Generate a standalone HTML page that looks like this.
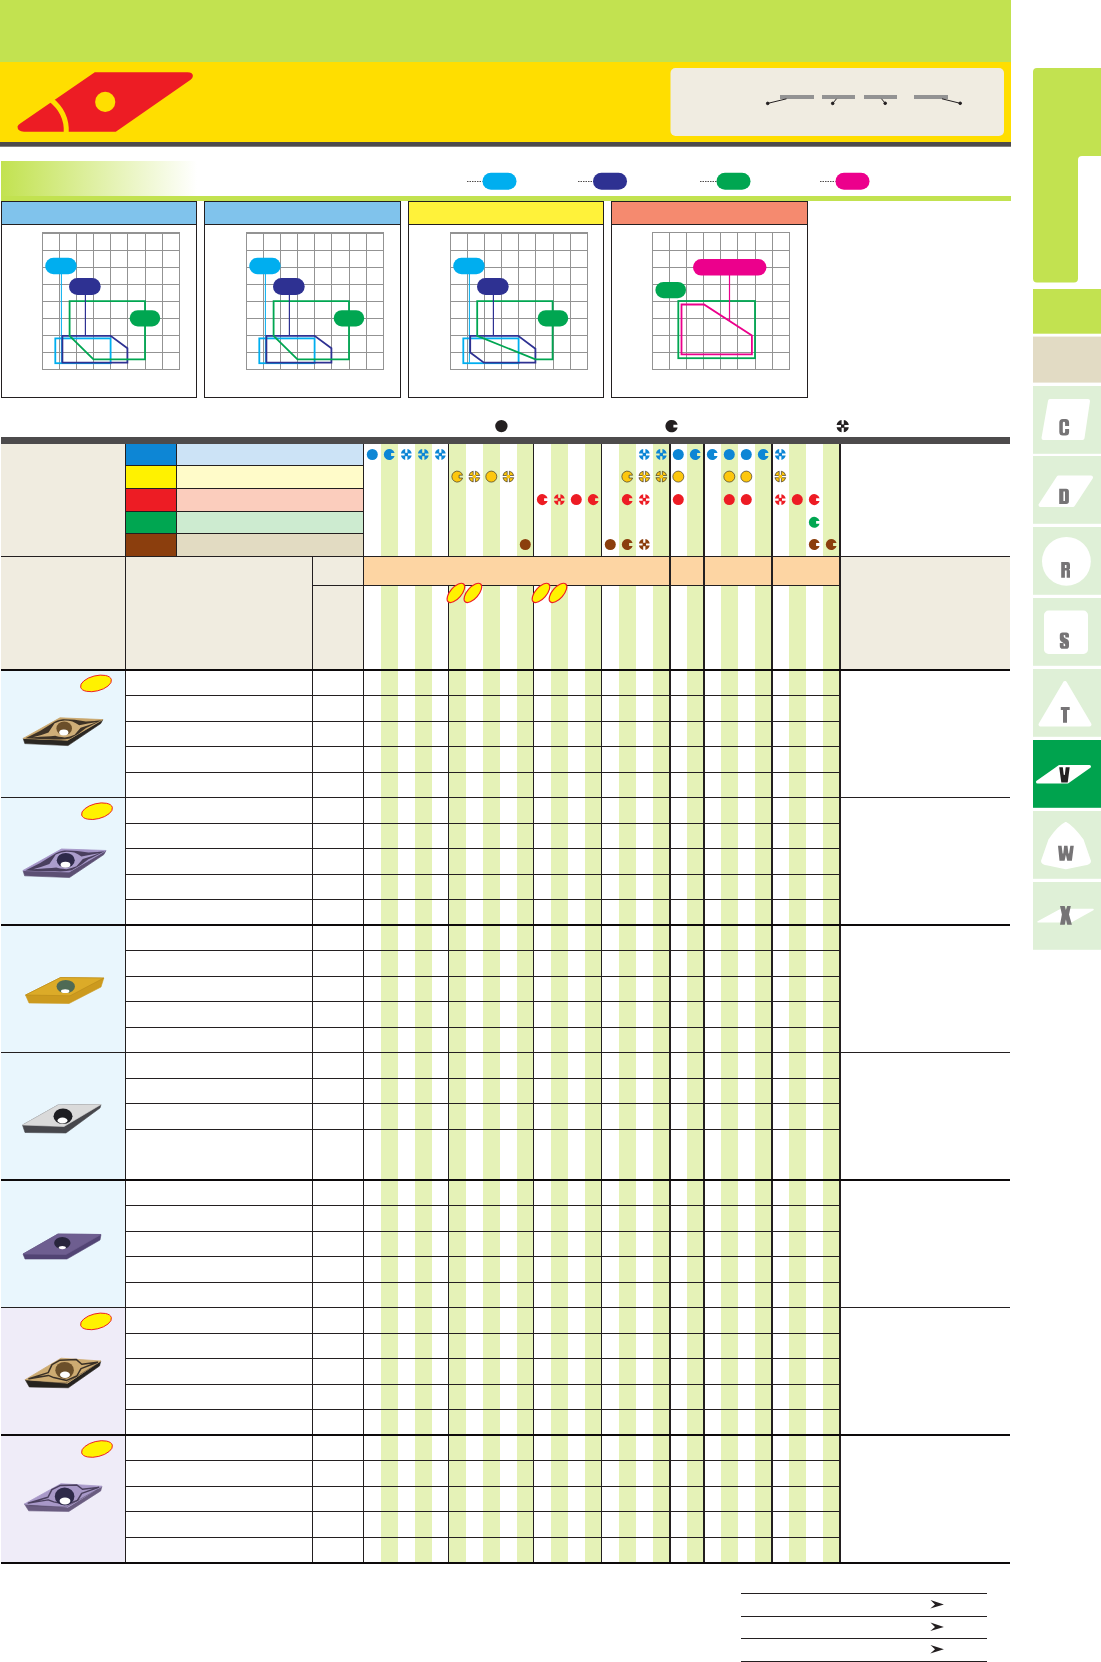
<!DOCTYPE html>
<html><head><meta charset="utf-8"><title>V insert catalog</title>
<style>
html,body{margin:0;padding:0;background:#fff;}
body{width:1101px;height:1662px;overflow:hidden;position:relative;font-family:"Liberation Sans",sans-serif;}
svg{position:absolute;left:0;top:0;display:block;}
text{font-family:"Liberation Sans",sans-serif;font-weight:bold;}
</style></head><body>
<svg width="1101" height="1662" viewBox="0 0 1101 1662">
<rect x="0" y="0" width="1011" height="62" fill="#c2e250" />
<rect x="0" y="62" width="1011" height="80" fill="#ffde00" />
<rect x="0" y="142" width="1011" height="4.7" fill="#4d4b4c" />
<path d="M94.8,72.2 L187.5,72.2 Q193,72.2 192.9,76 Q192.7,78.4 190.6,79.7 L115.8,131.7 L24,131.7 Q17.4,131.4 17.5,126.6 Q18.2,124.6 20.6,123.2 Z" fill="#ed1c24"/>
<circle cx="105.2" cy="101.9" r="10.1" fill="#ffde00"/>
<path d="M50,99 Q67.5,112.5 66.2,133" fill="none" stroke="#ffde00" stroke-width="5"/>
<rect x="670.5" y="68" width="333.5" height="68" rx="5" fill="#f0ece1"/>
<rect x="780" y="95" width="34" height="4" fill="#939393" />
<rect x="822" y="95" width="33" height="4" fill="#939393" />
<rect x="864" y="95" width="33" height="4" fill="#939393" />
<rect x="914" y="95" width="34" height="4" fill="#939393" />
<g stroke="#231f20" stroke-width="1" fill="#231f20">
<line x1="767.7" y1="103.4" x2="786.5" y2="98.8"/><circle cx="767.7" cy="103.4" r="1.3"/>
<line x1="832.7" y1="103.4" x2="836.5" y2="98.8"/><circle cx="832.7" cy="103.4" r="1.3"/>
<line x1="885.2" y1="103.3" x2="881.5" y2="98.8"/><circle cx="885.2" cy="103.3" r="1.3"/>
<line x1="960.2" y1="103.3" x2="942" y2="98.8"/><circle cx="960.2" cy="103.3" r="1.3"/>
</g>
<defs><linearGradient id="gr" x1="0" x2="1" y1="0" y2="0"><stop offset="0" stop-color="#c2e250"/><stop offset="1" stop-color="#ffffff"/></linearGradient></defs>
<rect x="1" y="161" width="196" height="35" fill="url(#gr)" />
<rect x="1" y="196" width="1010" height="5" fill="#c2e250" />
<line x1="467" y1="181.5" x2="482.5" y2="181.5" stroke="#231f20" stroke-width="0.8" stroke-dasharray="1.5,1"/>
<rect x="482.5" y="172.7" width="34" height="17" rx="8.5" fill="#00aeef"/>
<line x1="578" y1="181.5" x2="593" y2="181.5" stroke="#231f20" stroke-width="0.8" stroke-dasharray="1.5,1"/>
<rect x="593" y="172.7" width="34" height="17" rx="8.5" fill="#2e3192"/>
<line x1="700" y1="181.5" x2="716.5" y2="181.5" stroke="#231f20" stroke-width="0.8" stroke-dasharray="1.5,1"/>
<rect x="716.5" y="172.7" width="34" height="17" rx="8.5" fill="#00a651"/>
<line x1="820" y1="181.5" x2="835.5" y2="181.5" stroke="#231f20" stroke-width="0.8" stroke-dasharray="1.5,1"/>
<rect x="835.5" y="172.7" width="34" height="17" rx="8.5" fill="#ec008c"/>
<rect x="1" y="201" width="196" height="197" fill="#231f20" />
<rect x="2" y="202" width="194" height="22" fill="#80c3ec" />
<rect x="2" y="225" width="194" height="172" fill="#ffffff" />
<rect x="42" y="232" width="1" height="138" fill="#939393" />
<rect x="42" y="232" width="138" height="1" fill="#939393" />
<rect x="59" y="232" width="1" height="138" fill="#939393" />
<rect x="42" y="250" width="138" height="1" fill="#939393" />
<rect x="76" y="232" width="1" height="138" fill="#939393" />
<rect x="42" y="267" width="138" height="1" fill="#939393" />
<rect x="93" y="232" width="1" height="138" fill="#939393" />
<rect x="42" y="284" width="138" height="1" fill="#939393" />
<rect x="110" y="232" width="1" height="138" fill="#939393" />
<rect x="42" y="301" width="138" height="1" fill="#939393" />
<rect x="127" y="232" width="1" height="138" fill="#939393" />
<rect x="42" y="318" width="138" height="1" fill="#939393" />
<rect x="145" y="232" width="1" height="138" fill="#939393" />
<rect x="42" y="335" width="138" height="1" fill="#939393" />
<rect x="162" y="232" width="1" height="138" fill="#939393" />
<rect x="42" y="352" width="138" height="1" fill="#939393" />
<rect x="179" y="232" width="1" height="138" fill="#939393" />
<rect x="42" y="369" width="138" height="1" fill="#939393" />
<rect x="42" y="233" width="138" height="1" fill="#939393" />
<rect x="55.3" y="338.4" width="55.3" height="24.8" fill="none" stroke="#00aeef" stroke-width="1.8"/>
<line x1="61.4" y1="270" x2="61.4" y2="362.6" stroke="#00aeef" stroke-width="1"/>
<polygon points="62.4,335.9 110.6,335.9 127.4,348.3 127.4,362.6 62.4,362.6" fill="none" stroke="#2e3192" stroke-width="1.8"/>
<polygon points="69.6,301.2 145,301.2 145,359.4 93.5,359.4 69.6,335.9" fill="none" stroke="#00a651" stroke-width="1.8"/>
<line x1="85.4" y1="290" x2="85.4" y2="336" stroke="#2e3192" stroke-width="1.2"/>
<rect x="45.2" y="257.7" width="31.5" height="16.6" rx="8.3" fill="#00aeef"/>
<rect x="69" y="278" width="31.7" height="17" rx="8.5" fill="#2e3192"/>
<rect x="129.7" y="310.2" width="30.5" height="16.2" rx="8.1" fill="#00a651"/>
<rect x="204" y="201" width="197" height="197" fill="#231f20" />
<rect x="205" y="202" width="195" height="22" fill="#80c3ec" />
<rect x="205" y="225" width="195" height="172" fill="#ffffff" />
<rect x="246" y="232" width="1" height="138" fill="#939393" />
<rect x="246" y="232" width="138" height="1" fill="#939393" />
<rect x="263" y="232" width="1" height="138" fill="#939393" />
<rect x="246" y="250" width="138" height="1" fill="#939393" />
<rect x="280" y="232" width="1" height="138" fill="#939393" />
<rect x="246" y="267" width="138" height="1" fill="#939393" />
<rect x="297" y="232" width="1" height="138" fill="#939393" />
<rect x="246" y="284" width="138" height="1" fill="#939393" />
<rect x="314" y="232" width="1" height="138" fill="#939393" />
<rect x="246" y="301" width="138" height="1" fill="#939393" />
<rect x="331" y="232" width="1" height="138" fill="#939393" />
<rect x="246" y="318" width="138" height="1" fill="#939393" />
<rect x="349" y="232" width="1" height="138" fill="#939393" />
<rect x="246" y="335" width="138" height="1" fill="#939393" />
<rect x="366" y="232" width="1" height="138" fill="#939393" />
<rect x="246" y="352" width="138" height="1" fill="#939393" />
<rect x="383" y="232" width="1" height="138" fill="#939393" />
<rect x="246" y="369" width="138" height="1" fill="#939393" />
<rect x="246" y="233" width="138" height="1" fill="#939393" />
<rect x="259.3" y="338.4" width="55.3" height="24.8" fill="none" stroke="#00aeef" stroke-width="1.8"/>
<line x1="265.4" y1="270" x2="265.4" y2="362.6" stroke="#00aeef" stroke-width="1"/>
<polygon points="266.4,335.9 314.6,335.9 331.4,348.3 331.4,362.6 266.4,362.6" fill="none" stroke="#2e3192" stroke-width="1.8"/>
<polygon points="273.6,301.2 349,301.2 349,359.4 297.5,359.4 273.6,335.9" fill="none" stroke="#00a651" stroke-width="1.8"/>
<line x1="289.4" y1="290" x2="289.4" y2="336" stroke="#2e3192" stroke-width="1.2"/>
<rect x="249.2" y="257.7" width="31.5" height="16.6" rx="8.3" fill="#00aeef"/>
<rect x="273" y="278" width="31.7" height="17" rx="8.5" fill="#2e3192"/>
<rect x="333.7" y="310.2" width="30.5" height="16.2" rx="8.1" fill="#00a651"/>
<rect x="408" y="201" width="196" height="197" fill="#231f20" />
<rect x="409" y="202" width="194" height="22" fill="#fff23a" />
<rect x="409" y="225" width="194" height="172" fill="#ffffff" />
<rect x="450" y="232" width="1" height="138" fill="#939393" />
<rect x="450" y="232" width="138" height="1" fill="#939393" />
<rect x="467" y="232" width="1" height="138" fill="#939393" />
<rect x="450" y="250" width="138" height="1" fill="#939393" />
<rect x="484" y="232" width="1" height="138" fill="#939393" />
<rect x="450" y="267" width="138" height="1" fill="#939393" />
<rect x="501" y="232" width="1" height="138" fill="#939393" />
<rect x="450" y="284" width="138" height="1" fill="#939393" />
<rect x="518" y="232" width="1" height="138" fill="#939393" />
<rect x="450" y="301" width="138" height="1" fill="#939393" />
<rect x="535" y="232" width="1" height="138" fill="#939393" />
<rect x="450" y="318" width="138" height="1" fill="#939393" />
<rect x="553" y="232" width="1" height="138" fill="#939393" />
<rect x="450" y="335" width="138" height="1" fill="#939393" />
<rect x="570" y="232" width="1" height="138" fill="#939393" />
<rect x="450" y="352" width="138" height="1" fill="#939393" />
<rect x="587" y="232" width="1" height="138" fill="#939393" />
<rect x="450" y="369" width="138" height="1" fill="#939393" />
<rect x="450" y="233" width="138" height="1" fill="#939393" />
<rect x="463.3" y="338.4" width="55.3" height="24.8" fill="none" stroke="#00aeef" stroke-width="1.8"/>
<line x1="469.4" y1="270" x2="469.4" y2="362.6" stroke="#00aeef" stroke-width="1"/>
<polygon points="470.2,335.9 518.2,335.9 535.4,348.7 535.4,362.6 483.9,362.6 470.2,352.5" fill="none" stroke="#2e3192" stroke-width="1.8"/>
<polygon points="477.2,301.2 552.6,301.2 552.6,359.4 535.4,359.4 477.2,335.9" fill="none" stroke="#00a651" stroke-width="1.8"/>
<line x1="493.4" y1="290" x2="493.4" y2="336" stroke="#2e3192" stroke-width="1.2"/>
<rect x="453.2" y="257.7" width="31.5" height="16.6" rx="8.3" fill="#00aeef"/>
<rect x="477" y="278" width="31.7" height="17" rx="8.5" fill="#2e3192"/>
<rect x="537.7" y="310.2" width="30.5" height="16.2" rx="8.1" fill="#00a651"/>
<rect x="611" y="201" width="197" height="197" fill="#231f20" />
<rect x="612" y="202" width="195" height="22" fill="#f58a6f" />
<rect x="612" y="225" width="195" height="172" fill="#ffffff" />
<rect x="652" y="232" width="1" height="138" fill="#939393" />
<rect x="652" y="232" width="138" height="1" fill="#939393" />
<rect x="669" y="232" width="1" height="138" fill="#939393" />
<rect x="652" y="250" width="138" height="1" fill="#939393" />
<rect x="686" y="232" width="1" height="138" fill="#939393" />
<rect x="652" y="267" width="138" height="1" fill="#939393" />
<rect x="703" y="232" width="1" height="138" fill="#939393" />
<rect x="652" y="284" width="138" height="1" fill="#939393" />
<rect x="720" y="232" width="1" height="138" fill="#939393" />
<rect x="652" y="301" width="138" height="1" fill="#939393" />
<rect x="737" y="232" width="1" height="138" fill="#939393" />
<rect x="652" y="318" width="138" height="1" fill="#939393" />
<rect x="755" y="232" width="1" height="138" fill="#939393" />
<rect x="652" y="335" width="138" height="1" fill="#939393" />
<rect x="772" y="232" width="1" height="138" fill="#939393" />
<rect x="652" y="352" width="138" height="1" fill="#939393" />
<rect x="789" y="232" width="1" height="138" fill="#939393" />
<rect x="652" y="369" width="138" height="1" fill="#939393" />
<rect x="678.3" y="301" width="76.7" height="57.2" fill="none" stroke="#00a651" stroke-width="1.8"/>
<polygon points="681.5,304.5 704,304.5 751.9,335.6 751.9,354.4 681.5,354.4" fill="none" stroke="#ec008c" stroke-width="1.8"/>
<line x1="729.5" y1="270" x2="729.5" y2="320.8" stroke="#ec008c" stroke-width="1.2"/>
<rect x="693" y="259" width="73.5" height="16.6" rx="8.3" fill="#ec008c"/>
<rect x="655.4" y="282" width="30.6" height="16.2" rx="8.1" fill="#00a651"/>
<circle cx="501.4" cy="426.1" r="6.2" fill="#231f20"/>
<path transform="translate(671.6,426.1)" d="M6.040,-1.4 A6.2,6.2 0 1 0 6.040,1.4 L1.8,1.4 L1.8,-1.4 Z" fill="#231f20"/>
<path transform="translate(842.7,426.1)" d="M1.1,1.1 L6.102,1.1 A6.2,6.2 0 0 1 1.1,6.102 Z M1.1,-1.1 L6.102,-1.1 A6.2,6.2 0 0 0 1.1,-6.102 Z M-1.1,1.1 L-6.102,1.1 A6.2,6.2 0 0 0 -1.1,6.102 Z M-1.1,-1.1 L-6.102,-1.1 A6.2,6.2 0 0 1 -1.1,-6.102 Z" fill="#231f20"/>
<rect x="841.0" y="424.40000000000003" width="3.4" height="3.4" fill="#231f20"/>
<rect x="1" y="437" width="1009" height="7" fill="#4d4b4c" />
<rect x="1" y="444" width="124" height="226" fill="#f0ece0" />
<rect x="126" y="444" width="50" height="21" fill="#0d86d5" />
<rect x="177" y="444" width="186" height="21" fill="#cce3f6" />
<rect x="126" y="465" width="50" height="23" fill="#fff200" />
<rect x="177" y="465" width="186" height="23" fill="#fffbc9" />
<rect x="126" y="488" width="50" height="23" fill="#ed1c24" />
<rect x="177" y="488" width="186" height="23" fill="#fbcdbd" />
<rect x="126" y="511" width="50" height="22" fill="#00a651" />
<rect x="177" y="511" width="186" height="22" fill="#cdebd0" />
<rect x="126" y="533" width="50" height="23" fill="#8b3e0d" />
<rect x="177" y="533" width="186" height="23" fill="#e2dbc2" />
<rect x="126" y="556" width="237" height="113" fill="#f0ece0" />
<rect x="841" y="556" width="169" height="113" fill="#f0ece0" />
<rect x="381" y="444" width="17" height="1118" fill="#e5f2b7" />
<rect x="415" y="444" width="17" height="1118" fill="#e5f2b7" />
<rect x="449" y="444" width="17" height="1118" fill="#e5f2b7" />
<rect x="483" y="444" width="17" height="1118" fill="#e5f2b7" />
<rect x="517" y="444" width="17" height="1118" fill="#e5f2b7" />
<rect x="551" y="444" width="17" height="1118" fill="#e5f2b7" />
<rect x="585" y="444" width="17" height="1118" fill="#e5f2b7" />
<rect x="619" y="444" width="17" height="1118" fill="#e5f2b7" />
<rect x="653" y="444" width="17" height="1118" fill="#e5f2b7" />
<rect x="687" y="444" width="17" height="1118" fill="#e5f2b7" />
<rect x="721" y="444" width="17" height="1118" fill="#e5f2b7" />
<rect x="755" y="444" width="17" height="1118" fill="#e5f2b7" />
<rect x="789" y="444" width="17" height="1118" fill="#e5f2b7" />
<rect x="823" y="444" width="17" height="1118" fill="#e5f2b7" />
<rect x="364" y="556" width="476" height="29" fill="#fdd5a3" />
<rect x="1" y="670" width="124" height="127" fill="#e9f6fd" />
<rect x="1" y="797" width="124" height="128" fill="#e9f6fd" />
<rect x="1" y="925" width="124" height="127" fill="#e9f6fd" />
<rect x="1" y="1052" width="124" height="128" fill="#e9f6fd" />
<rect x="1" y="1180" width="124" height="127" fill="#e9f6fd" />
<rect x="1" y="1307" width="124" height="128" fill="#efecf8" />
<rect x="1" y="1435" width="124" height="127" fill="#efecf8" />
<rect x="125" y="465" width="239" height="1" fill="#231f20" />
<rect x="125" y="488" width="239" height="1" fill="#231f20" />
<rect x="125" y="511" width="239" height="1" fill="#231f20" />
<rect x="125" y="533" width="239" height="1" fill="#231f20" />
<rect x="1" y="556" width="1009" height="1" fill="#231f20" />
<rect x="312" y="585" width="528" height="1" fill="#231f20" />
<rect x="125" y="444" width="1" height="1118" fill="#231f20" />
<rect x="176" y="444" width="1" height="112" fill="#231f20" />
<rect x="312" y="556" width="1" height="1006" fill="#231f20" />
<rect x="363" y="444" width="1" height="1118" fill="#231f20" />
<rect x="448" y="444" width="1" height="112" fill="#231f20" />
<rect x="448" y="585" width="1" height="977" fill="#231f20" />
<rect x="533" y="444" width="1" height="112" fill="#231f20" />
<rect x="533" y="585" width="1" height="977" fill="#231f20" />
<rect x="601" y="444" width="1" height="112" fill="#231f20" />
<rect x="601" y="585" width="1" height="977" fill="#231f20" />
<rect x="669" y="444" width="2" height="1118" fill="#231f20" />
<rect x="703" y="444" width="2" height="1118" fill="#231f20" />
<rect x="771" y="444" width="2" height="1118" fill="#231f20" />
<rect x="839" y="444" width="2" height="1118" fill="#231f20" />
<rect x="125" y="695" width="716" height="1" fill="#231f20" />
<rect x="125" y="721" width="716" height="1" fill="#231f20" />
<rect x="125" y="746" width="716" height="1" fill="#231f20" />
<rect x="125" y="772" width="716" height="1" fill="#231f20" />
<rect x="125" y="823" width="716" height="1" fill="#231f20" />
<rect x="125" y="848" width="716" height="1" fill="#231f20" />
<rect x="125" y="874" width="716" height="1" fill="#231f20" />
<rect x="125" y="899" width="716" height="1" fill="#231f20" />
<rect x="125" y="950" width="716" height="1" fill="#231f20" />
<rect x="125" y="976" width="716" height="1" fill="#231f20" />
<rect x="125" y="1001" width="716" height="1" fill="#231f20" />
<rect x="125" y="1027" width="716" height="1" fill="#231f20" />
<rect x="125" y="1078" width="716" height="1" fill="#231f20" />
<rect x="125" y="1103" width="716" height="1" fill="#231f20" />
<rect x="125" y="1129" width="716" height="1" fill="#231f20" />
<rect x="125" y="1205" width="716" height="1" fill="#231f20" />
<rect x="125" y="1231" width="716" height="1" fill="#231f20" />
<rect x="125" y="1256" width="716" height="1" fill="#231f20" />
<rect x="125" y="1282" width="716" height="1" fill="#231f20" />
<rect x="125" y="1333" width="716" height="1" fill="#231f20" />
<rect x="125" y="1358" width="716" height="1" fill="#231f20" />
<rect x="125" y="1384" width="716" height="1" fill="#231f20" />
<rect x="125" y="1409" width="716" height="1" fill="#231f20" />
<rect x="125" y="1460" width="716" height="1" fill="#231f20" />
<rect x="125" y="1486" width="716" height="1" fill="#231f20" />
<rect x="125" y="1511" width="716" height="1" fill="#231f20" />
<rect x="125" y="1537" width="716" height="1" fill="#231f20" />
<rect x="1" y="797" width="1009" height="1" fill="#231f20" />
<rect x="1" y="1052" width="1009" height="1" fill="#231f20" />
<rect x="1" y="1307" width="1009" height="1" fill="#231f20" />
<rect x="1" y="669" width="1009" height="2" fill="#0d0a0b" />
<rect x="1" y="924" width="1009" height="2" fill="#0d0a0b" />
<rect x="1" y="1179" width="1009" height="2" fill="#0d0a0b" />
<rect x="1" y="1434" width="1009" height="2" fill="#0d0a0b" />
<rect x="1" y="1562" width="1009" height="2" fill="#0d0a0b" />
<circle cx="372.3" cy="454.5" r="5.5" fill="#0d86d5"/>
<path transform="translate(389.3,454.5)" d="M5.319,-1.4 A5.5,5.5 0 1 0 5.319,1.4 L1.8,1.4 L1.8,-1.4 Z" fill="#0d86d5"/>
<path transform="translate(406.3,454.5)" d="M1.1,1.1 L5.389,1.1 A5.5,5.5 0 0 1 1.1,5.389 Z M1.1,-1.1 L5.389,-1.1 A5.5,5.5 0 0 0 1.1,-5.389 Z M-1.1,1.1 L-5.389,1.1 A5.5,5.5 0 0 0 -1.1,5.389 Z M-1.1,-1.1 L-5.389,-1.1 A5.5,5.5 0 0 1 -1.1,-5.389 Z" fill="#0d86d5"/>
<rect x="404.6" y="452.8" width="3.4" height="3.4" fill="#0d86d5"/>
<path transform="translate(423.3,454.5)" d="M1.1,1.1 L5.389,1.1 A5.5,5.5 0 0 1 1.1,5.389 Z M1.1,-1.1 L5.389,-1.1 A5.5,5.5 0 0 0 1.1,-5.389 Z M-1.1,1.1 L-5.389,1.1 A5.5,5.5 0 0 0 -1.1,5.389 Z M-1.1,-1.1 L-5.389,-1.1 A5.5,5.5 0 0 1 -1.1,-5.389 Z" fill="#0d86d5"/>
<rect x="421.6" y="452.8" width="3.4" height="3.4" fill="#0d86d5"/>
<path transform="translate(440.3,454.5)" d="M1.1,1.1 L5.389,1.1 A5.5,5.5 0 0 1 1.1,5.389 Z M1.1,-1.1 L5.389,-1.1 A5.5,5.5 0 0 0 1.1,-5.389 Z M-1.1,1.1 L-5.389,1.1 A5.5,5.5 0 0 0 -1.1,5.389 Z M-1.1,-1.1 L-5.389,-1.1 A5.5,5.5 0 0 1 -1.1,-5.389 Z" fill="#0d86d5"/>
<rect x="438.6" y="452.8" width="3.4" height="3.4" fill="#0d86d5"/>
<path transform="translate(644.3,454.5)" d="M1.1,1.1 L5.389,1.1 A5.5,5.5 0 0 1 1.1,5.389 Z M1.1,-1.1 L5.389,-1.1 A5.5,5.5 0 0 0 1.1,-5.389 Z M-1.1,1.1 L-5.389,1.1 A5.5,5.5 0 0 0 -1.1,5.389 Z M-1.1,-1.1 L-5.389,-1.1 A5.5,5.5 0 0 1 -1.1,-5.389 Z" fill="#0d86d5"/>
<rect x="642.5999999999999" y="452.8" width="3.4" height="3.4" fill="#0d86d5"/>
<path transform="translate(661.3,454.5)" d="M1.1,1.1 L5.389,1.1 A5.5,5.5 0 0 1 1.1,5.389 Z M1.1,-1.1 L5.389,-1.1 A5.5,5.5 0 0 0 1.1,-5.389 Z M-1.1,1.1 L-5.389,1.1 A5.5,5.5 0 0 0 -1.1,5.389 Z M-1.1,-1.1 L-5.389,-1.1 A5.5,5.5 0 0 1 -1.1,-5.389 Z" fill="#0d86d5"/>
<rect x="659.5999999999999" y="452.8" width="3.4" height="3.4" fill="#0d86d5"/>
<circle cx="678.3" cy="454.5" r="5.5" fill="#0d86d5"/>
<path transform="translate(695.3,454.5)" d="M5.319,-1.4 A5.5,5.5 0 1 0 5.319,1.4 L1.8,1.4 L1.8,-1.4 Z" fill="#0d86d5"/>
<path transform="translate(712.3,454.5)" d="M5.319,-1.4 A5.5,5.5 0 1 0 5.319,1.4 L1.8,1.4 L1.8,-1.4 Z" fill="#0d86d5"/>
<circle cx="729.3" cy="454.5" r="5.5" fill="#0d86d5"/>
<circle cx="746.3" cy="454.5" r="5.5" fill="#0d86d5"/>
<path transform="translate(763.3,454.5)" d="M5.319,-1.4 A5.5,5.5 0 1 0 5.319,1.4 L1.8,1.4 L1.8,-1.4 Z" fill="#0d86d5"/>
<path transform="translate(780.3,454.5)" d="M1.1,1.1 L5.389,1.1 A5.5,5.5 0 0 1 1.1,5.389 Z M1.1,-1.1 L5.389,-1.1 A5.5,5.5 0 0 0 1.1,-5.389 Z M-1.1,1.1 L-5.389,1.1 A5.5,5.5 0 0 0 -1.1,5.389 Z M-1.1,-1.1 L-5.389,-1.1 A5.5,5.5 0 0 1 -1.1,-5.389 Z" fill="#0d86d5"/>
<rect x="778.5999999999999" y="452.8" width="3.4" height="3.4" fill="#0d86d5"/>
<path transform="translate(457.3,476.6)" d="M5.319,-1.4 A5.5,5.5 0 1 0 5.319,1.4 L1.8,1.4 L1.8,-1.4 Z" fill="#fdc70e" stroke="#231f20" stroke-width="0.6"/>
<path transform="translate(474.3,476.6)" d="M1.1,1.1 L5.389,1.1 A5.5,5.5 0 0 1 1.1,5.389 Z M1.1,-1.1 L5.389,-1.1 A5.5,5.5 0 0 0 1.1,-5.389 Z M-1.1,1.1 L-5.389,1.1 A5.5,5.5 0 0 0 -1.1,5.389 Z M-1.1,-1.1 L-5.389,-1.1 A5.5,5.5 0 0 1 -1.1,-5.389 Z" fill="#fdc70e" stroke="#231f20" stroke-width="0.6"/>
<rect x="472.6" y="474.90000000000003" width="3.4" height="3.4" fill="#fdc70e"/>
<circle cx="491.3" cy="476.6" r="5.5" fill="#fdc70e" stroke="#231f20" stroke-width="0.6"/>
<path transform="translate(508.3,476.6)" d="M1.1,1.1 L5.389,1.1 A5.5,5.5 0 0 1 1.1,5.389 Z M1.1,-1.1 L5.389,-1.1 A5.5,5.5 0 0 0 1.1,-5.389 Z M-1.1,1.1 L-5.389,1.1 A5.5,5.5 0 0 0 -1.1,5.389 Z M-1.1,-1.1 L-5.389,-1.1 A5.5,5.5 0 0 1 -1.1,-5.389 Z" fill="#fdc70e" stroke="#231f20" stroke-width="0.6"/>
<rect x="506.6" y="474.90000000000003" width="3.4" height="3.4" fill="#fdc70e"/>
<path transform="translate(627.3,476.6)" d="M5.319,-1.4 A5.5,5.5 0 1 0 5.319,1.4 L1.8,1.4 L1.8,-1.4 Z" fill="#fdc70e" stroke="#231f20" stroke-width="0.6"/>
<path transform="translate(644.3,476.6)" d="M1.1,1.1 L5.389,1.1 A5.5,5.5 0 0 1 1.1,5.389 Z M1.1,-1.1 L5.389,-1.1 A5.5,5.5 0 0 0 1.1,-5.389 Z M-1.1,1.1 L-5.389,1.1 A5.5,5.5 0 0 0 -1.1,5.389 Z M-1.1,-1.1 L-5.389,-1.1 A5.5,5.5 0 0 1 -1.1,-5.389 Z" fill="#fdc70e" stroke="#231f20" stroke-width="0.6"/>
<rect x="642.5999999999999" y="474.90000000000003" width="3.4" height="3.4" fill="#fdc70e"/>
<path transform="translate(661.3,476.6)" d="M1.1,1.1 L5.389,1.1 A5.5,5.5 0 0 1 1.1,5.389 Z M1.1,-1.1 L5.389,-1.1 A5.5,5.5 0 0 0 1.1,-5.389 Z M-1.1,1.1 L-5.389,1.1 A5.5,5.5 0 0 0 -1.1,5.389 Z M-1.1,-1.1 L-5.389,-1.1 A5.5,5.5 0 0 1 -1.1,-5.389 Z" fill="#fdc70e" stroke="#231f20" stroke-width="0.6"/>
<rect x="659.5999999999999" y="474.90000000000003" width="3.4" height="3.4" fill="#fdc70e"/>
<circle cx="678.3" cy="476.6" r="5.5" fill="#fdc70e" stroke="#231f20" stroke-width="0.6"/>
<circle cx="729.3" cy="476.6" r="5.5" fill="#fdc70e" stroke="#231f20" stroke-width="0.6"/>
<circle cx="746.3" cy="476.6" r="5.5" fill="#fdc70e" stroke="#231f20" stroke-width="0.6"/>
<path transform="translate(780.3,476.6)" d="M1.1,1.1 L5.389,1.1 A5.5,5.5 0 0 1 1.1,5.389 Z M1.1,-1.1 L5.389,-1.1 A5.5,5.5 0 0 0 1.1,-5.389 Z M-1.1,1.1 L-5.389,1.1 A5.5,5.5 0 0 0 -1.1,5.389 Z M-1.1,-1.1 L-5.389,-1.1 A5.5,5.5 0 0 1 -1.1,-5.389 Z" fill="#fdc70e" stroke="#231f20" stroke-width="0.6"/>
<rect x="778.5999999999999" y="474.90000000000003" width="3.4" height="3.4" fill="#fdc70e"/>
<path transform="translate(542.3,499.6)" d="M5.319,-1.4 A5.5,5.5 0 1 0 5.319,1.4 L1.8,1.4 L1.8,-1.4 Z" fill="#ed1c24"/>
<path transform="translate(559.3,499.6)" d="M1.1,1.1 L5.389,1.1 A5.5,5.5 0 0 1 1.1,5.389 Z M1.1,-1.1 L5.389,-1.1 A5.5,5.5 0 0 0 1.1,-5.389 Z M-1.1,1.1 L-5.389,1.1 A5.5,5.5 0 0 0 -1.1,5.389 Z M-1.1,-1.1 L-5.389,-1.1 A5.5,5.5 0 0 1 -1.1,-5.389 Z" fill="#ed1c24"/>
<rect x="557.5999999999999" y="497.90000000000003" width="3.4" height="3.4" fill="#ed1c24"/>
<circle cx="576.3" cy="499.6" r="5.5" fill="#ed1c24"/>
<path transform="translate(593.3,499.6)" d="M5.319,-1.4 A5.5,5.5 0 1 0 5.319,1.4 L1.8,1.4 L1.8,-1.4 Z" fill="#ed1c24"/>
<path transform="translate(627.3,499.6)" d="M5.319,-1.4 A5.5,5.5 0 1 0 5.319,1.4 L1.8,1.4 L1.8,-1.4 Z" fill="#ed1c24"/>
<path transform="translate(644.3,499.6)" d="M1.1,1.1 L5.389,1.1 A5.5,5.5 0 0 1 1.1,5.389 Z M1.1,-1.1 L5.389,-1.1 A5.5,5.5 0 0 0 1.1,-5.389 Z M-1.1,1.1 L-5.389,1.1 A5.5,5.5 0 0 0 -1.1,5.389 Z M-1.1,-1.1 L-5.389,-1.1 A5.5,5.5 0 0 1 -1.1,-5.389 Z" fill="#ed1c24"/>
<rect x="642.5999999999999" y="497.90000000000003" width="3.4" height="3.4" fill="#ed1c24"/>
<circle cx="678.3" cy="499.6" r="5.5" fill="#ed1c24"/>
<circle cx="729.3" cy="499.6" r="5.5" fill="#ed1c24"/>
<circle cx="746.3" cy="499.6" r="5.5" fill="#ed1c24"/>
<path transform="translate(780.3,499.6)" d="M1.1,1.1 L5.389,1.1 A5.5,5.5 0 0 1 1.1,5.389 Z M1.1,-1.1 L5.389,-1.1 A5.5,5.5 0 0 0 1.1,-5.389 Z M-1.1,1.1 L-5.389,1.1 A5.5,5.5 0 0 0 -1.1,5.389 Z M-1.1,-1.1 L-5.389,-1.1 A5.5,5.5 0 0 1 -1.1,-5.389 Z" fill="#ed1c24"/>
<rect x="778.5999999999999" y="497.90000000000003" width="3.4" height="3.4" fill="#ed1c24"/>
<circle cx="797.3" cy="499.6" r="5.5" fill="#ed1c24"/>
<path transform="translate(814.3,499.6)" d="M5.319,-1.4 A5.5,5.5 0 1 0 5.319,1.4 L1.8,1.4 L1.8,-1.4 Z" fill="#ed1c24"/>
<path transform="translate(814.3,522.3)" d="M5.319,-1.4 A5.5,5.5 0 1 0 5.319,1.4 L1.8,1.4 L1.8,-1.4 Z" fill="#00a651"/>
<circle cx="525.3" cy="544.5" r="5.5" fill="#8b3e0d"/>
<circle cx="610.3" cy="544.5" r="5.5" fill="#8b3e0d"/>
<path transform="translate(627.3,544.5)" d="M5.319,-1.4 A5.5,5.5 0 1 0 5.319,1.4 L1.8,1.4 L1.8,-1.4 Z" fill="#8b3e0d"/>
<path transform="translate(644.3,544.5)" d="M1.1,1.1 L5.389,1.1 A5.5,5.5 0 0 1 1.1,5.389 Z M1.1,-1.1 L5.389,-1.1 A5.5,5.5 0 0 0 1.1,-5.389 Z M-1.1,1.1 L-5.389,1.1 A5.5,5.5 0 0 0 -1.1,5.389 Z M-1.1,-1.1 L-5.389,-1.1 A5.5,5.5 0 0 1 -1.1,-5.389 Z" fill="#8b3e0d"/>
<rect x="642.5999999999999" y="542.8" width="3.4" height="3.4" fill="#8b3e0d"/>
<path transform="translate(814.3,544.5)" d="M5.319,-1.4 A5.5,5.5 0 1 0 5.319,1.4 L1.8,1.4 L1.8,-1.4 Z" fill="#8b3e0d"/>
<path transform="translate(831.3,544.5)" d="M5.319,-1.4 A5.5,5.5 0 1 0 5.319,1.4 L1.8,1.4 L1.8,-1.4 Z" fill="#8b3e0d"/>
<ellipse cx="455.9" cy="592.9" rx="11.8" ry="5.6" transform="rotate(-49 455.9 592.9)" fill="#fff200" stroke="#ed1c24" stroke-width="1.15"/>
<ellipse cx="472.9" cy="592.9" rx="11.8" ry="5.6" transform="rotate(-49 472.9 592.9)" fill="#fff200" stroke="#ed1c24" stroke-width="1.15"/>
<ellipse cx="541.0" cy="592.9" rx="11.8" ry="5.6" transform="rotate(-49 541.0 592.9)" fill="#fff200" stroke="#ed1c24" stroke-width="1.15"/>
<ellipse cx="558.0" cy="592.9" rx="11.8" ry="5.6" transform="rotate(-49 558.0 592.9)" fill="#fff200" stroke="#ed1c24" stroke-width="1.15"/>
<ellipse cx="96" cy="683.4" rx="15.8" ry="7.6" transform="rotate(-14 96 683.4)" fill="#fff200" stroke="#ed1c24" stroke-width="0.9"/>
<ellipse cx="97" cy="811.2" rx="15.8" ry="7.6" transform="rotate(-14 97 811.2)" fill="#fff200" stroke="#ed1c24" stroke-width="0.9"/>
<ellipse cx="96" cy="1321.4" rx="15.8" ry="7.6" transform="rotate(-14 96 1321.4)" fill="#fff200" stroke="#ed1c24" stroke-width="0.9"/>
<ellipse cx="97" cy="1449" rx="15.8" ry="7.6" transform="rotate(-14 97 1449)" fill="#fff200" stroke="#ed1c24" stroke-width="0.9"/>
<g transform="matrix(1.00000,-0.00000,0.00000,1.00000,-0.0000,0.0000)">
<polygon points="23.2,738.4 67.6,740.2 102.8,719.6 100.8,723.5 68,745.6 24.8,743.6" fill="#2b2722" stroke="#2b2722" stroke-width="0.6" stroke-linejoin="round"/>
<polygon points="23.2,738.4 60,717.8 102.8,719.6 67.6,740.2" fill="#c9a66c" stroke="#c9a66c" stroke-width="0.8" stroke-linejoin="round"/>
<path d="M25.5,738.3 Q40,732 52,723.6 Q57,719.8 63,719.3 Q74,719.2 86,721.4 Q95,721 101.5,720.2 Q92,725 86,728 Q79,734 70,738.6 Q64,740 54,739.4 Q40,739.2 25.5,738.3 Z" fill="#3d3226"/>
<path d="M33,737.2 Q42,735 48.5,732.4 L54.6,723.2 Q60,720.6 64.8,720.6 Q69,720.6 72.4,721.4 Q76,723 79.2,725.2 Q88,723.6 97,722 Q88,725.6 80.6,727.8 L74.6,734.8 Q70,737 64.8,737.4 Q58,737 55.2,735.8 Q47,736.6 33,737.2 Z" fill="#cfae78"/>
</g>
<ellipse cx="64.2" cy="728.4" rx="7.8" ry="6.9" fill="#6b4f2a"/>
<ellipse cx="63.8" cy="732.6" rx="4.6" ry="3.0" fill="#ffffff"/>
<g transform="matrix(1.04017,-0.00823,-0.01076,1.02899,6.8135,110.8848)">
<polygon points="23.2,738.4 67.6,740.2 102.8,719.6 100.8,723.5 68,745.6 24.8,743.6" fill="#5c4f73" stroke="#5c4f73" stroke-width="0.6" stroke-linejoin="round"/>
<polygon points="23.2,738.4 60,717.8 102.8,719.6 67.6,740.2" fill="#a393c6" stroke="#a393c6" stroke-width="0.8" stroke-linejoin="round"/>
<path d="M25.5,738.3 Q40,732 52,723.6 Q57,719.8 63,719.3 Q74,719.2 86,721.4 Q95,721 101.5,720.2 Q92,725 86,728 Q79,734 70,738.6 Q64,740 54,739.4 Q40,739.2 25.5,738.3 Z" fill="#4a3f5e"/>
<path d="M33,737.2 Q42,735 48.5,732.4 L54.6,723.2 Q60,720.6 64.8,720.6 Q69,720.6 72.4,721.4 Q76,723 79.2,725.2 Q88,723.6 97,722 Q88,725.6 80.6,727.8 L74.6,734.8 Q70,737 64.8,737.4 Q58,737 55.2,735.8 Q47,736.6 33,737.2 Z" fill="#ab9dcc"/>
</g>
<ellipse cx="65.75" cy="860.3" rx="9.0" ry="7.4" fill="#2e2a4a"/>
<ellipse cx="65.5" cy="864.8" rx="4.9" ry="3.0" fill="#ffffff"/>
<g transform="matrix(1.00000,0.00000,-0.00000,1.00000,0.0000,-0.0000)">
<polygon points="25.2,1379.7 67.5,1383.2 100.8,1361 99.5,1366 68.3,1387.8 29.3,1387" fill="#26231f" stroke="#26231f" stroke-width="0.6" stroke-linejoin="round"/>
<polygon points="25.2,1379.7 61,1358.2 100.8,1361 67.5,1383.2" fill="#cdab72" stroke="#cdab72" stroke-width="0.8" stroke-linejoin="round"/>
<path d="M29,1378.8 L48.2,1372.6 L52,1364.6 L60,1360.2 L76.4,1359.6 L81.8,1364.2 L97.5,1362.2 L81,1368.6 L76.8,1376 L66.7,1380.4 L53.7,1377.6 L48.4,1375.4 Z" fill="#cdab72" stroke="#3a3026" stroke-width="1.5" stroke-linejoin="round"/>
<path d="M30,1381.5 L66,1383 L97,1364" fill="none" stroke="#3a3026" stroke-width="0.8" opacity="0.6"/>
</g>
<ellipse cx="64.6" cy="1370.3" rx="9.3" ry="8.4" fill="#6b4f2a"/>
<ellipse cx="65" cy="1374.8" rx="5" ry="3.2" fill="#ffffff"/>
<g transform="matrix(1.02933,-0.00323,0.01163,0.93880,-17.5886,208.8140)">
<polygon points="25.2,1379.7 67.5,1383.2 100.8,1361 99.5,1366 68.3,1387.8 29.3,1387" fill="#6a5c80" stroke="#6a5c80" stroke-width="0.6" stroke-linejoin="round"/>
<polygon points="25.2,1379.7 61,1358.2 100.8,1361 67.5,1383.2" fill="#a898c8" stroke="#a898c8" stroke-width="0.8" stroke-linejoin="round"/>
<path d="M29,1378.8 L48.2,1372.6 L52,1364.6 L60,1360.2 L76.4,1359.6 L81.8,1364.2 L97.5,1362.2 L81,1368.6 L76.8,1376 L66.7,1380.4 L53.7,1377.6 L48.4,1375.4 Z" fill="#a898c8" stroke="#4a3f5e" stroke-width="1.5" stroke-linejoin="round"/>
<path d="M30,1381.5 L66,1383 L97,1364" fill="none" stroke="#4a3f5e" stroke-width="0.8" opacity="0.6"/>
</g>
<ellipse cx="64.6" cy="1496.4" rx="9.8" ry="9.0" fill="#2e2a4a"/>
<ellipse cx="65" cy="1501" rx="5.4" ry="3.4" fill="#ffffff"/>
<polygon points="25.5,995 60.5,977.5 103.8,978 101,987 69,1003.5 29,1003" fill="#cc9a1e" stroke="#cc9a1e" stroke-width="0.6" stroke-linejoin="round"/>
<polygon points="25.5,995 60.5,977.5 103.8,978 70,995.8" fill="#dcab28" stroke="#b8891a" stroke-width="0.6" stroke-linejoin="round"/>
<ellipse cx="65.75" cy="986.5" rx="9.2" ry="6.6" fill="#4f6a55"/>
<ellipse cx="65.2" cy="991.2" rx="4.2" ry="1.9" fill="#ffffff"/>
<polygon points="22.5,1125 58,1105 101,1104.5 100,1108 66,1133 25,1132.5" fill="#47474c" stroke="#47474c" stroke-width="0.6" stroke-linejoin="round"/>
<polygon points="22.5,1125 58,1105 101,1104.5 64,1126.5" fill="#dadada" stroke="#dadada" stroke-width="0.6" stroke-linejoin="round"/>
<ellipse cx="63" cy="1116.2" rx="9.5" ry="7.8" fill="#1e1e22"/>
<ellipse cx="62.5" cy="1120.5" rx="5" ry="3" fill="#ffffff"/>
<polygon points="23,1254 58,1234 101,1234.5 100,1240 67,1259 25,1259" fill="#524474" stroke="#524474" stroke-width="0.6" stroke-linejoin="round"/>
<polygon points="23,1254 58,1234 101,1234.5 66,1254.5" fill="#6e5e90" stroke="#6e5e90" stroke-width="0.6" stroke-linejoin="round"/>
<ellipse cx="62.3" cy="1243" rx="8.2" ry="6.0" fill="#28253c"/>
<ellipse cx="62.3" cy="1247.6" rx="3.6" ry="1.6" fill="#ffffff"/>
<rect x="741" y="1593" width="246" height="1" fill="#231f20" />
<rect x="741" y="1616" width="246" height="1" fill="#231f20" />
<rect x="741" y="1638" width="246" height="1" fill="#231f20" />
<rect x="741" y="1661" width="246" height="1" fill="#231f20" />
<path d="M930.5,1600.1 L943.9,1604.5 L930.3,1608.6 L935,1604.5 Z" fill="#231f20"/>
<path d="M930.5,1622.6 L943.9,1627 L930.3,1631.1 L935,1627 Z" fill="#231f20"/>
<path d="M930.5,1644.8999999999999 L943.9,1649.3 L930.3,1653.3999999999999 L935,1649.3 Z" fill="#231f20"/>
<path d="M1037,68 H1101 V156 H1082 Q1078,156 1078,160 V278.5 Q1078,282.5 1074,282.5 H1037 Q1033,282.5 1033,278.5 V72 Q1033,68 1037,68 Z" fill="#c2e250"/>
<rect x="1033" y="289" width="68" height="44.7" fill="#c2e250" />
<rect x="1033" y="336.6" width="68" height="46" fill="#e2dbc4" />
<rect x="1033" y="386" width="68" height="67.8" fill="#dff0d7" />
<rect x="1033" y="456" width="68" height="67.8" fill="#dff0d7" />
<rect x="1033" y="527" width="68" height="67.8" fill="#dff0d7" />
<rect x="1033" y="598" width="68" height="67.8" fill="#dff0d7" />
<rect x="1033" y="669" width="68" height="67.8" fill="#dff0d7" />
<rect x="1033" y="740" width="68" height="67.8" fill="#00a34e" />
<rect x="1033" y="811" width="68" height="67.8" fill="#dff0d7" />
<rect x="1033" y="882" width="68" height="67.8" fill="#dff0d7" />
<polygon points="1050,401 1088,401 1082.5,438 1043.5,438" fill="#fff" stroke="#fff" stroke-width="4" stroke-linejoin="round"/>
<polygon points="1058.5,477.5 1091,477.5 1073,505 1040.5,505" fill="#fff" stroke="#fff" stroke-width="4" stroke-linejoin="round"/>
<circle cx="1066.4" cy="561.3" r="24.4" fill="#fff"/>
<rect x="1044" y="610.6" width="44" height="43.3" rx="4.5" fill="#fff"/>
<polygon points="1065,683 1040.5,724.5 1089.5,724.5" fill="#fff" stroke="#fff" stroke-width="4" stroke-linejoin="round"/>
<polygon points="1059.5,766.5 1089.5,766.5 1067.5,782 1037.5,782" fill="#fff" stroke="#fff" stroke-width="3" stroke-linejoin="round"/>
<path d="M1065.8,823 Q1059,826 1049.4,839.8 L1042,861 Q1042,864 1048,864.5 L1065.8,868.2 L1084,864.5 Q1090,864 1090,861 L1082.6,839.8 Q1072,826 1065.8,823 Z" fill="#fff" stroke="#fff" stroke-width="2" stroke-linejoin="round"/>
<polygon points="1061,909.5 1093,909.5 1071,921.8 1038,921.8" fill="#fff" stroke="#fff" stroke-width="1.5" stroke-linejoin="round"/>
<g transform="translate(1059.3,419.1)"><path d="M3.5,0 H6.3 Q9.8,0 9.8,3.5 V7 H5.8 V3.8 Q5.8,2.6 4.65,2.6 Q3.5,2.6 3.5,3.8 V12.7 Q3.5,13.9 4.65,13.9 Q5.8,13.9 5.8,12.7 V10 H9.8 V13 Q9.8,16.5 6.3,16.5 H3.5 Q0,16.5 0,13 V3.5 Q0,0 3.5,0 Z" fill="#767476" fill-rule="evenodd"/></g><g transform="translate(1059.2,488.7)"><path d="M0,0 H7 Q9.7,0 9.7,2.7 V12.5 Q9.7,15.2 7,15.2 H0 Z M4.2,2.8 H5.8 V12.4 H4.2 Z" fill="#767476" fill-rule="evenodd"/></g><g transform="translate(1061.2,562.1)"><path d="M0,0 H6.5 Q8.8,0 8.8,2.3 V6.7 L7.8,7.6 L8.8,8.5 V15.6 H5.5 V8.5 H3.7 V15.6 H0 Z M3.7,2.8 H5.3 V5.9 H3.7 Z" fill="#767476" fill-rule="evenodd"/></g><g transform="translate(1059.8,632.6)"><path d="M2.8,0 H6.4 Q9.2,0 9.2,2.8 V5 H5.5 V3.2 Q5.5,2.4 4.6,2.4 Q3.8,2.4 3.8,3.2 Q3.8,4.5 5,5.3 L7.8,7 Q9.2,8 9.2,10 V13.4 Q9.2,16.2 6.4,16.2 H2.8 Q0,16.2 0,13.4 V10.4 H3.8 V12.9 Q3.8,13.7 4.6,13.7 Q5.5,13.7 5.5,12.9 Q5.5,11.5 4.4,10.8 L1.4,9 Q0,8 0,6 V2.8 Q0,0 2.8,0 Z" fill="#767476" fill-rule="evenodd"/></g><path d="M1060.8,707 H1069.7 V710 H1067 V722.8 H1063 V710 H1060.8 Z" fill="#767476" fill-rule="evenodd"/><path d="M1059.2,767.2 H1062.8 L1063.7,774.6 Q1064.3,775.6 1064.9,774.6 L1065.7,767.2 H1069.7 L1067.7,782.5 H1061.3 Z" fill="#231f20" fill-rule="evenodd"/><path d="M1058,845.8 H1061.6 L1062.6,853.5 H1063.3 L1064.1,845.8 H1067.5 L1068.4,853.5 H1069.1 L1070.3,845.8 H1073.8 L1071.9,860.8 H1067.2 L1065.9,854.7 L1064.6,860.8 H1059.5 Z" fill="#767476" fill-rule="evenodd"/><path d="M1060,906.1 H1064.7 L1065.9,909.9 L1067.2,906.1 H1070.8 L1069,914.6 L1071.9,924.8 H1067.2 L1065.9,919.4 L1064.8,924.8 H1060 L1061.9,914.6 Z" fill="#767476" fill-rule="evenodd"/>
</svg>
</body></html>
